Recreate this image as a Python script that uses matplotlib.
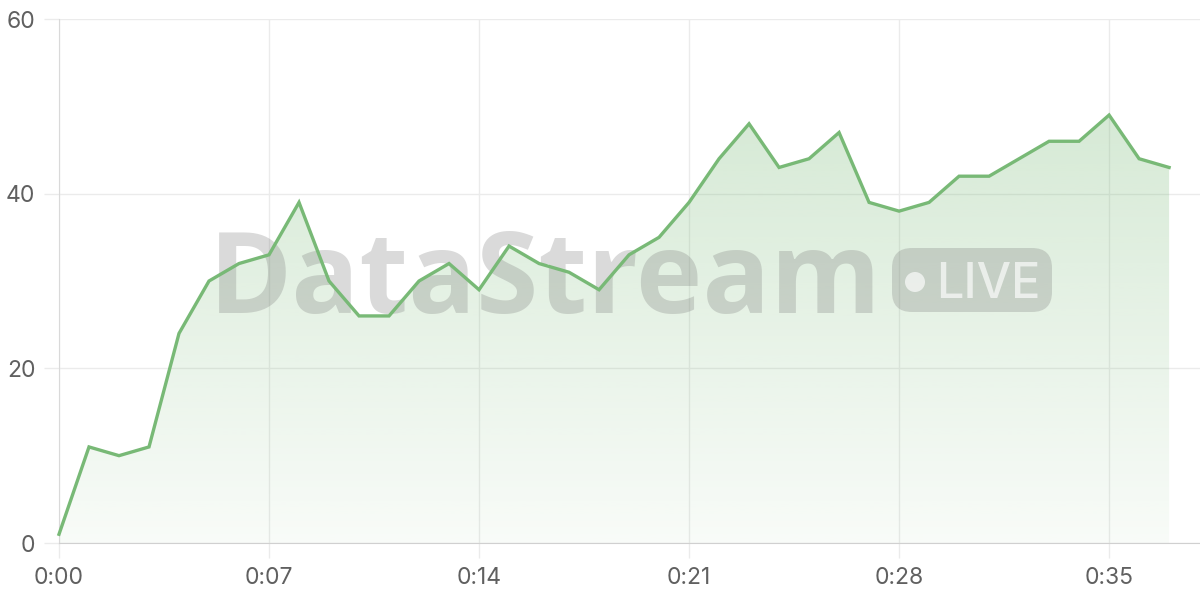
import numpy as np
import matplotlib
matplotlib.use("Agg")
import matplotlib.pyplot as plt
from matplotlib.patches import FancyBboxPatch, Circle
from matplotlib.transforms import Affine2D

# viewers per second of the stream
values = [1, 11, 10, 11, 24, 30, 32, 33, 39, 30, 26, 26, 30, 32, 29, 34, 32, 31, 29,
          33, 35, 39, 44, 48, 43, 44, 47, 39, 38, 39, 42, 42, 44, 46, 46, 49, 44, 43]
seconds = list(range(len(values)))
xtick_pos = [0, 7, 14, 21, 28, 35]
xtick_labels = ["0:00", "0:07", "0:14", "0:21", "0:28", "0:35"]
ytick_pos = [0, 20, 40, 60]

line_color = "#78b976"
grid_color = "#ebebeb"
text_color = "#606060"

plt.rcParams["font.family"] = ["Inter", "DejaVu Sans"]

fig = plt.figure(figsize=(12, 6), dpi=100)
ax = fig.add_axes([59 / 1200, 57 / 600, 1141 / 1200, 524 / 600])
ax.set_xlim(0, 38.03)
ax.set_ylim(0, 60)

# gradient fill under the line
poly = ax.fill_between(seconds, values, 0, facecolor="none", edgecolor="none")
rgb = matplotlib.colors.to_rgb(line_color)
grad = np.zeros((256, 1, 4))
grad[:, :, :3] = rgb
grad[:, 0, 3] = np.linspace(0.36, 0.05, 256)
im = ax.imshow(grad, extent=[0, 38.03, 0, 60], aspect="auto", origin="upper",
               zorder=1, interpolation="bilinear")
im.set_clip_path(poly.get_paths()[0], transform=ax.transData)

ax.plot(seconds, values, color=line_color, lw=2.4, zorder=4, solid_joinstyle="miter",
        clip_on=False)

# watermark, in pixel coords from the top left
px = Affine2D().scale(1 / 1200, -1 / 600).translate(0, 1) + fig.transFigure
wm = dict(color="#777777", alpha=0.27)
ax.text(209, 313, "DataStream", transform=px, fontsize=81, fontweight="bold",
        family=["Open Sans", "DejaVu Sans"], ha="left", va="baseline", zorder=2, **wm)
pill = FancyBboxPatch((892 + 20, 248 + 20), 160 - 40, 64 - 40,
                      boxstyle="round,pad=20", transform=px, lw=0, zorder=2,
                      facecolor=wm["color"], alpha=wm["alpha"], clip_on=False)
ax.add_patch(pill)
ax.add_patch(Circle((915, 282), 10, transform=px, color="white", alpha=0.65,
                    lw=0, zorder=3, clip_on=False))
ax.text(936, 298, "LIVE", transform=px, fontsize=35, fontweight="medium",
        color="white", alpha=0.65, ha="left", va="baseline", zorder=3)

ax.set_xticks(xtick_pos, xtick_labels)
ax.set_yticks(ytick_pos)
ax.grid(True, color=grid_color, lw=1)
ax.set_axisbelow(True)
ax.tick_params(axis="both", colors=grid_color, labelcolor=text_color, labelsize=16.5,
               length=11, width=1)
ax.tick_params(axis="x", pad=6)
ax.tick_params(axis="y", pad=6)
for s in ["top", "right"]:
    ax.spines[s].set_visible(False)
ax.spines["left"].set_color("#d9d9d9")
ax.spines["bottom"].set_color("#d0d0d0")

fig.savefig("out.png", dpi=100)
